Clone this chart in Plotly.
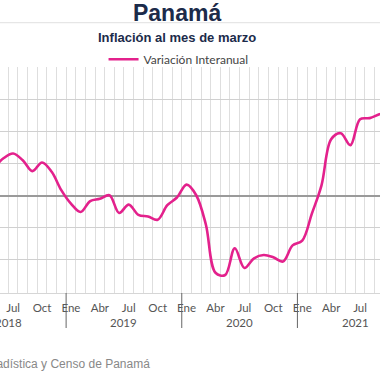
import plotly.graph_objects as go

# ---- data ----
periodos = ["2018-05", "2018-06", "2018-07", "2018-08", "2018-09", "2018-10", "2018-11", "2018-12",
            "2019-01", "2019-02", "2019-03", "2019-04", "2019-05", "2019-06", "2019-07", "2019-08",
            "2019-09", "2019-10", "2019-11", "2019-12",
            "2020-01", "2020-02", "2020-03", "2020-04", "2020-05", "2020-06", "2020-07", "2020-08",
            "2020-09", "2020-10", "2020-11", "2020-12",
            "2021-01", "2021-02", "2021-03", "2021-04", "2021-05", "2021-06", "2021-07", "2021-08",
            "2021-09", "2021-10"]
variacion = [0.85, 1.16, 1.31, 1.10, 0.76, 1.03, 0.74, 0.17,
             -0.25, -0.51, -0.17, -0.10, 0.01, -0.54, -0.28, -0.60,
             -0.65, -0.75, -0.30, -0.06,
             0.34, 0.01, -0.90, -2.40, -2.47, -1.64, -2.25, -1.95,
             -1.85, -1.92, -2.05, -1.55,
             -1.40, -0.56, 0.32, 1.75, 1.94, 1.57, 2.375, 2.41,
             2.53, 2.60]
meses_etiqueta = ["Ene", "Abr", "Jul", "Oct"]
meses_num = [1, 4, 7, 10]
anios = [2018, 2019, 2020, 2021]
serie_nombre = "Variación Interanual"
titulo = "Panamá"
subtitulo = "Inflación al mes de marzo"
fuente = "Fuente: Instituto Nacional de Estadística y Censo de Panamá"

BASE = 2018


def pos(anio, mes):
    # centre of the month cell, in months from Jan 2018
    return (anio - BASE) * 12 + (mes - 1) + 0.5


xs = [pos(int(p[:4]), int(p[5:])) for p in periodos]

tickvals, ticktext = [], []
for a in anios:
    for m, lab in zip(meses_num, meses_etiqueta):
        tickvals.append(pos(a, m))
        ticktext.append(lab)

PINK = "#e3218c"
NAVY = "#1c2b4a"

fig = go.Figure()
fig.add_trace(go.Scatter(
    x=xs, y=variacion, mode="lines", name=serie_nombre,
    line=dict(color=PINK, width=2.6, shape="spline", smoothing=1.0),
    showlegend=True,
))

# plot area: top 67px, bottom 293px -> height 226px
fig.update_layout(
    width=380, height=380,
    margin=dict(l=0, r=0, t=67, b=87, autoexpand=False),
    paper_bgcolor="white", plot_bgcolor="white",
    title=dict(text=titulo, x=0.466, xanchor="center", xref="container",
               y=1 - 13 / 380, yanchor="middle", yref="container",
               font=dict(family="Liberation Sans, Arial", size=23, color=NAVY, weight="bold")),
    legend=dict(orientation="h", x=0.2725, xanchor="left", y=1.034, yanchor="middle",
                font=dict(family="Lato", size=12, color="#444"),
                bgcolor="rgba(0,0,0,0)", itemwidth=30),
    font=dict(family="Lato", size=11, color="#555"),
)

fig.update_xaxes(
    range=[5.14, 44.57],
    tickmode="array", tickvals=tickvals, ticktext=ticktext,
    showgrid=False, ticks="", ticklabelstandoff=4,
    tickfont=dict(family="Lato", size=11.5, color="#555"),
    showline=True, linecolor="#d6d6d6", linewidth=1,
    zeroline=False,
    minor=dict(tickmode="linear", tick0=0, dtick=1, showgrid=True,
               gridcolor="#dedede", gridwidth=1, ticks=""),
)
fig.update_yaxes(
    range=[-3.03, 4.0], dtick=1, tick0=0,
    showticklabels=False, showgrid=True, gridcolor="#d0d0d0", gridwidth=1,
    zeroline=True, zerolinecolor="#9a9a9a", zerolinewidth=1.6,
)

# separator under title
fig.add_shape(type="line", xref="paper", yref="paper", x0=0, x1=1,
              y0=(293 - 22.7) / 226, y1=(293 - 22.7) / 226,
              line=dict(color="#e0e0e0", width=1))

# subtitle
fig.add_annotation(text=f"<b>{subtitulo}</b>", xref="paper", yref="paper",
                   x=176.7 / 380, y=(293 - 38) / 226, xanchor="center", yanchor="middle",
                   showarrow=False,
                   font=dict(family="Liberation Sans, Arial", size=13, color=NAVY))

# year group labels and dividers
for a in anios:
    fig.add_annotation(text=str(a), xref="x", yref="paper", x=(a - BASE) * 12 + 6,
                       y=(293 - 322.7) / 226, xanchor="center", yanchor="middle",
                       showarrow=False, font=dict(family="Lato", size=11.5, color="#555"))
    if a > BASE:
        xb = (a - BASE) * 12
        fig.add_shape(type="line", xref="x", yref="paper", x0=xb, x1=xb,
                      y0=0, y1=(293 - 328) / 226, line=dict(color="#666", width=1))

# source
fig.add_annotation(text=fuente, xref="paper", yref="paper", x=151.7 / 380,
                   y=(293 - 364) / 226, xanchor="right", yanchor="middle",
                   showarrow=False,
                   font=dict(family="Liberation Sans, Arial", size=12, color="#888"))

fig.write_html("out.html", config={"displayModeBar": False},
               post_script="document.body.style.margin='0';")
